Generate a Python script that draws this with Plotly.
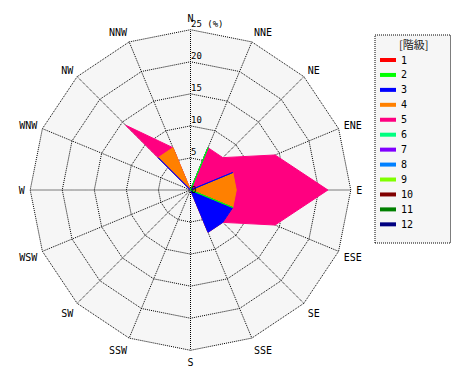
import plotly.graph_objects as go

directions = ["N", "NNE", "NE", "ENE", "E", "ESE", "SE", "SSE",
              "S", "SSW", "SW", "WSW", "W", "WNW", "NW", "NNW"]
classes = ["1", "2", "3", "4", "5", "6", "7", "8", "9", "10", "11", "12"]
colors = ["#ff0000", "#00ff00", "#0000ff", "#ff8000", "#ff0080", "#00ff80",
          "#8000ff", "#0080ff", "#80ff00", "#800000", "#008000", "#000080"]

# percentage of each class per direction (stacked)
class_1 = [0, 0, 0, 0, 0, 0, 0, 0, 0, 0, 0, 0, 0, 0, 0, 0]
class_2 = [0, 7.14, 0, 0, 0, 7.14, 0, 0, 0, 0, 0, 0, 0, 0, 0, 0]
class_3 = [0, 0, 0, 7.14, 0, 0, 7.14, 7.14, 0, 0, 0, 0, 0, 0, 7.14, 0]
class_4 = [0, 0, 0, 0, 7.14, 0, 0, 0, 0, 0, 0, 0, 0, 0, 0, 7.14]
class_5 = [0, 0, 7.14, 7.14, 14.29, 7.14, 0, 0, 0, 0, 0, 0, 0, 0, 7.14, 0]
class_6 = [0] * 16
class_7 = [0] * 16
class_8 = [0] * 16
class_9 = [0] * 16
class_10 = [0] * 16
class_11 = [0] * 16
class_12 = [0] * 16
series = [class_1, class_2, class_3, class_4, class_5, class_6,
          class_7, class_8, class_9, class_10, class_11, class_12]

radial_ticks = [0, 5, 10, 15, 20, 25]
radial_labels = ["0", "5", "10", "15", "20", "25 (%)"]
legend_title = "[階級]"
r_max = 25

W, H = 470, 380
fig = go.Figure()

cum = []
run = [0.0] * 16
for s in series:
    run = [a + b for a, b in zip(run, s)]
    cum.append(run)

for k in range(len(series) - 1, -1, -1):
    if sum(series[k]) == 0:
        continue
    r = cum[k] + [cum[k][0]]
    th = directions + [directions[0]]
    fig.add_trace(go.Scatterpolar(
        r=r, theta=th, mode="lines", fill="toself",
        fillcolor=colors[k], line=dict(color=colors[k], width=1),
        name=classes[k], showlegend=False, hoverinfo="skip"))

# helper subplot that only draws the dotted outer ring
fig.add_trace(go.Scatterpolar(r=[None] * 16, theta=directions, subplot="polar2",
                              mode="lines", showlegend=False, hoverinfo="skip"))

cx, cy, R = 190.5, 190, 160.3
ext = 26
R2 = R * ext / r_max
DOT = "1px,1px"

def tick_text(t):
    if t == "0":
        return "<span style='font-size:9px'>0</span>"
    return "<span style='font-size:9px'>" + t + "</span><br> "

angular_common = dict(
    categoryorder="array", categoryarray=directions,
    direction="clockwise", rotation=90, showline=False,
)

fig.update_layout(
    width=W, height=H,
    margin=dict(l=0, r=0, t=0, b=0),
    paper_bgcolor="white",
    showlegend=False,
    polar=dict(
        domain=dict(x=[(cx - R) / W, (cx + R) / W],
                    y=[1 - (cy + R) / H, 1 - (cy - R) / H]),
        bgcolor="#f6f6f6",
        gridshape="linear",
        radialaxis=dict(
            range=[0, r_max], tickvals=radial_ticks,
            ticktext=[tick_text(t) for t in radial_labels],
            angle=90, tickangle=90, showline=False, ticks="",
            gridcolor="black", griddash=DOT, gridwidth=1,
            tickfont=dict(family="DejaVu Sans Mono", size=8, color="black"),
            layer="above traces"),
        angularaxis=dict(
            **angular_common,
            gridcolor="black", griddash=DOT, gridwidth=1,
            ticks="outside", ticklen=3, tickcolor="rgba(0,0,0,0)",
            tickfont=dict(family="DejaVu Sans Mono", size=10, color="black"),
            layer="above traces"),
    ),
    polar2=dict(
        domain=dict(x=[(cx - R2) / W, (cx + R2) / W],
                    y=[1 - (cy + R2) / H, 1 - (cy - R2) / H]),
        bgcolor="rgba(0,0,0,0)",
        gridshape="linear",
        radialaxis=dict(
            range=[0, ext], tickvals=[r_max], showticklabels=False,
            showline=False, ticks="", angle=90,
            gridcolor="black", griddash=DOT, gridwidth=1),
        angularaxis=dict(
            **angular_common, showgrid=False, showticklabels=False, ticks=""),
    ),
)

def px(x):
    return x / W

def py(y):
    return 1 - y / H

fig.add_shape(type="rect", xref="paper", yref="paper",
              x0=px(375), x1=px(450.5), y0=py(243), y1=py(35),
              line=dict(color="black", width=1, dash=DOT),
              fillcolor="#f6f6f6", layer="below")
fig.add_annotation(xref="paper", yref="paper", x=px(413), y=py(44),
                   text=legend_title, showarrow=False,
                   font=dict(family="Noto Sans CJK JP", size=11, color="#222222"),
                   xanchor="center", yanchor="middle")
for i, (name, col) in enumerate(zip(classes, colors)):
    yy = 60 + i * 14.94
    fig.add_shape(type="line", xref="paper", yref="paper",
                  x0=px(380), x1=px(396), y0=py(yy), y1=py(yy),
                  line=dict(color=col, width=4))
    fig.add_annotation(xref="paper", yref="paper", x=px(399), y=py(yy),
                       text=name, showarrow=False,
                       font=dict(family="DejaVu Sans Mono", size=10, color="black"),
                       xanchor="left", yanchor="middle")

fig.write_html("out.html", config={"displayModeBar": False},
               post_script="document.body.style.margin='0';")
